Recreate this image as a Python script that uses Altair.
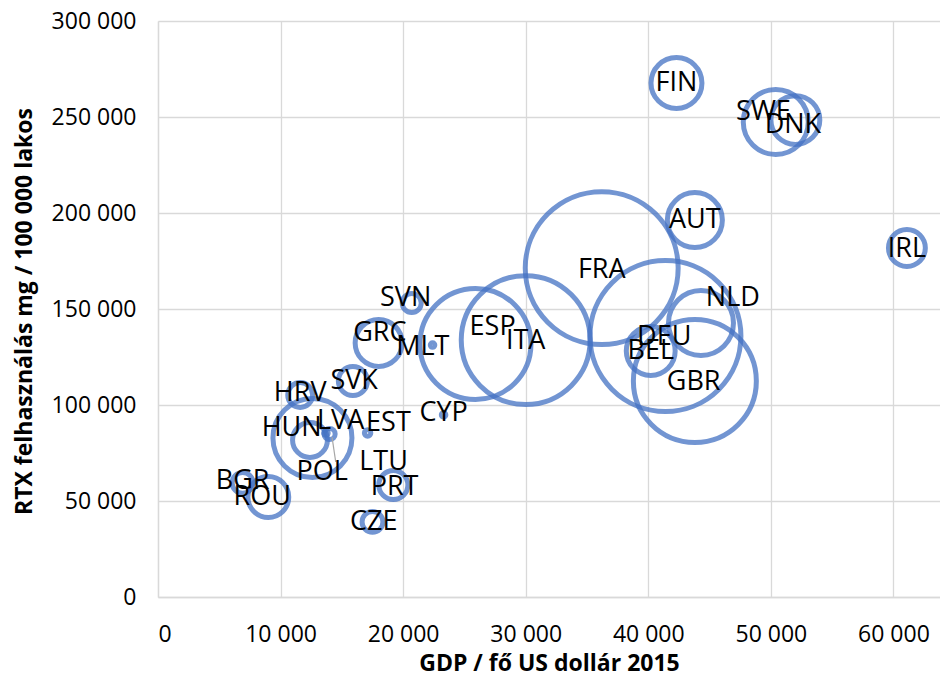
import altair as alt
import pandas as pd

countries = ["FIN", "SWE", "DNK", "AUT", "IRL", "FRA", "DEU", "NLD", "GBR", "BEL",
             "ITA", "ESP", "MLT", "SVN", "GRC", "SVK", "CYP", "HRV", "POL", "HUN",
             "LVA", "LTU", "EST", "BGR", "ROU", "PRT", "CZE"]
gdp = [42300, 50400, 52000, 43800, 61100, 36200, 41400, 44300, 43800, 40200,
       30000, 25900, 22400, 20700, 18000, 15900, 23300, 11600, 12600, 12400,
       13700, 14000, 17100, 6900, 9000, 19200, 17500]
rtx = [267700, 247400, 248400, 196300, 181800, 171300, 135900, 142700, 112500, 128100,
       133800, 131800, 131200, 153100, 132300, 112500, 94800, 105200, 82800, 81800,
       85400, 84900, 85400, 59400, 52100, 58300, 39100]
bubble = [12.6, 20.5, 11.6, 14.7, 6.6, 113.5, 110.6, 20.5, 73.4, 11.6,
          80.7, 59.8, 0.1, 1.75, 10.7, 4.1, 0.1, 3.0, 30.3, 5.9,
          0.1, 0.6, 0.2, 2.1, 8.1, 4.1, 2.1]
label_gdp = [42300, 49400, 51800, 43800, 61100, 36200, 41300, 46900, 43700, 40200,
             30000, 27300, 21600, 20200, 18100, 16000, 23300, 11600, 13400, 10900,
             14900, 18400, 18800, 6900, 8500, 19300, 17600]
label_rtx = [267700, 252600, 245800, 196300, 181300, 170300, 135400, 155700, 112000, 128100,
             133300, 140600, 130200, 155700, 137500, 112500, 95800, 106200, 65100, 88000,
             91700, 70300, 90600, 60400, 52100, 57300, 39100]

leader_gdp = [14200, 14500]
leader_rtx = [83300, 70300]

df = pd.DataFrame({"country": countries, "gdp": gdp, "rtx": rtx, "bubble": bubble,
                   "lx": label_gdp, "ly": label_rtx})
lead = pd.DataFrame({"x": [leader_gdp[0]], "x2": [leader_gdp[1]],
                     "y": [leader_rtx[0]], "y2": [leader_rtx[1]]})

x_scale = alt.Scale(domain=[0, 63800], nice=False, zero=True)
y_scale = alt.Scale(domain=[0, 300000], nice=False)

fmt = "replace(format(datum.value, ','), ',', ' ')"

x_axis = alt.Axis(
    values=[0, 10000, 20000, 30000, 40000, 50000, 60000],
    labelExpr=fmt, ticks=False, grid=True, gridColor="#D9D9D9", gridWidth=1.3,
    domainColor="#D9D9D9", domainWidth=1.3,
    labelFont="Open Sans", labelFontSize=23, labelColor="#000000", labelPadding=26,
    title="GDP / fő US dollár 2015", titleFont="Open Sans", titleFontSize=23,
    titleFontWeight="bold", titleColor="#000000", titleY=66, titleBaseline="middle",
)
y_axis = alt.Axis(
    values=[0, 50000, 100000, 150000, 200000, 250000, 300000],
    labelExpr=fmt, ticks=False, grid=True, gridColor="#D9D9D9", gridWidth=1.3,
    domainColor="#D9D9D9", domainWidth=1.3,
    labelFont="Open Sans", labelFontSize=23, labelColor="#000000", labelPadding=22,
    title="RTX felhasználás mg / 100 000 lakos", titleFont="Open Sans", titleFontSize=23,
    titleFontWeight="bold", titleColor="#000000", titleX=-134, titleY=290,
    titleBaseline="middle", titleAngle=270,
)

bubbles = alt.Chart(df).mark_point(
    shape="circle", filled=False, color="#4472C4", opacity=0.75, strokeWidth=5
).encode(
    x=alt.X("gdp:Q", scale=x_scale, axis=x_axis),
    y=alt.Y("rtx:Q", scale=y_scale, axis=y_axis),
    size=alt.Size("bubble:Q", scale=alt.Scale(domain=[0, 120], range=[0, 24720]), legend=None),
)

leader = alt.Chart(lead).mark_rule(color="#A6A6A6", strokeWidth=1.2).encode(
    x=alt.X("x:Q", scale=x_scale, axis=x_axis),
    x2="x2:Q",
    y=alt.Y("y:Q", scale=y_scale, axis=y_axis),
    y2="y2:Q",
)

labels = alt.Chart(df).mark_text(
    font="Open Sans", fontSize=27, color="#000000", align="center", baseline="middle"
).encode(
    x=alt.X("lx:Q", scale=x_scale, axis=x_axis),
    y=alt.Y("ly:Q", scale=y_scale, axis=y_axis),
    text="country:N",
)

chart = alt.layer(bubbles, leader, labels).properties(
    width=782, height=576,
    autosize=alt.AutoSizeParams(type="none"),
    padding={"left": 150, "top": 13, "right": 0, "bottom": 80},
).configure_view(stroke=None)

chart.save("out.html", embed_options={"renderer": "svg", "actions": False})
